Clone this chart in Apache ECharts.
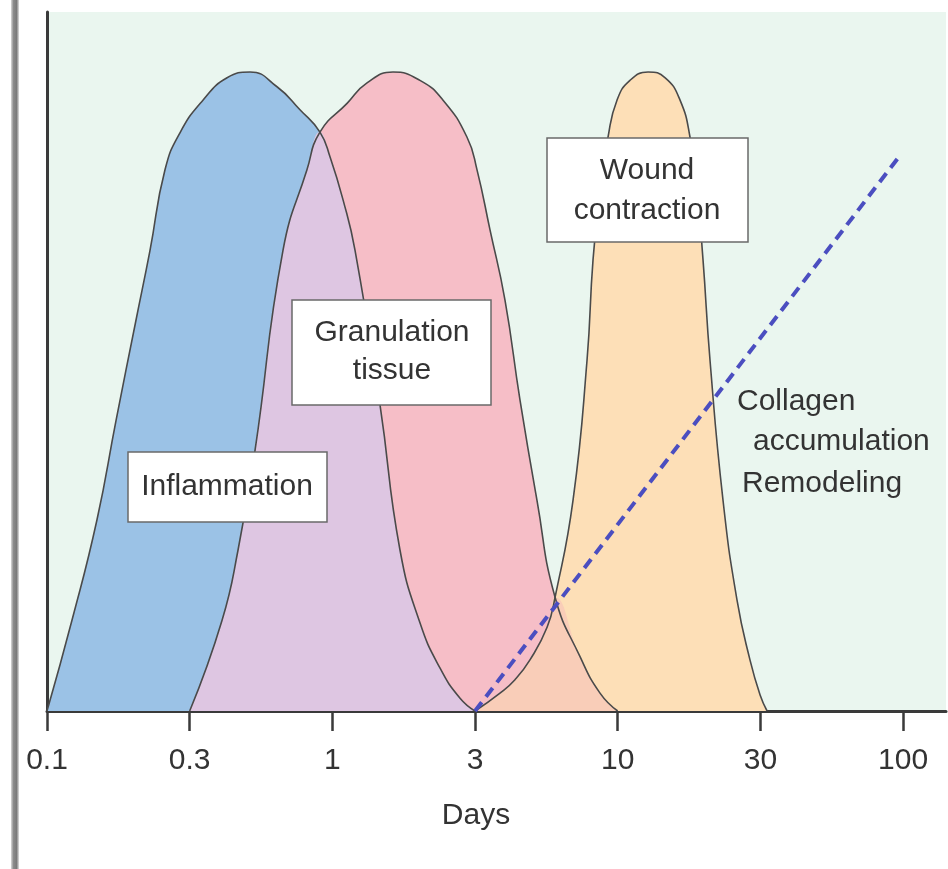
<!DOCTYPE html>
<html>
<head>
<meta charset="utf-8">
<script src="https://cdn.jsdelivr.net/npm/echarts@6/dist/echarts.min.js"></script>
<style>
html,body{margin:0;padding:0;background:#fff;}
#chart{width:948px;height:869px;}
</style>
</head>
<body>
<div id="chart"></div>
<script>
// ---- data (x = position along the day axis, one unit per tick; y = relative intensity) ----
const tickLabels = ['0.1', '0.3', '1', '3', '10', '30', '100'];
const tickPositions = [0, 1, 2, 3, 4, 5, 6];

const inflammation = [
  [0, 0], [0.175, 14.2], [0.35, 29.9], [0.484, 45.5], [0.624, 61.2], [0.722, 72.1],
  [0.827, 84.7], [0.932, 90.5], [1.093, 95.6], [1.262, 99.1], [1.423, 100],
  [1.612, 97.7], [1.773, 94.1], [1.913, 90.6], [1.984, 86.7], [2.075, 80.0],
  [2.159, 72.1], [2.334, 47.9], [2.474, 25.2], [2.614, 13.8], [2.755, 6.7],
  [2.895, 2.0], [3.0, 0]
];
const granulation = [
  [1.0, 0], [1.227, 14.2], [1.339, 25.2], [1.458, 40.8], [1.654, 72.1], [1.822, 84.7],
  [1.913, 90.6], [2.103, 95.1], [2.243, 98.3], [2.425, 100], [2.614, 98.7],
  [2.776, 95.6], [2.944, 89.8], [3.014, 84.7], [3.105, 75.3], [3.21, 64.3],
  [3.315, 48.7], [3.434, 33.0], [3.561, 17.8], [3.736, 8.5], [3.876, 2.8], [4.0, 0]
];
const woundContraction = [
  [3.0, 0], [3.175, 2.8], [3.28, 4.9], [3.385, 8.0], [3.505, 13.1], [3.561, 17.8],
  [3.687, 33.0], [3.785, 54.9], [3.827, 70.6], [3.876, 81.5], [3.932, 89.8],
  [3.995, 95.6], [4.086, 98.7], [4.213, 100], [4.333, 99.1], [4.437, 95.6],
  [4.507, 89.8], [4.556, 81.5], [4.598, 70.6], [4.647, 54.9], [4.738, 33.0],
  [4.836, 17.4], [4.927, 8.0], [4.998, 2.5], [5.047, 0]
];
const collagen = [[3.0, 0], [5.97, 86.7]];

// crossing points (shared by both curves)
const crossInflGran = 1.913;
const crossGranWound = 3.561;

// overlap regions built from the curves above
const overlapInflGran = granulation.filter(p => p[0] <= crossInflGran)
  .concat(inflammation.filter(p => p[0] > crossInflGran));
const overlapGranWound = woundContraction.filter(p => p[0] <= crossGranWound)
  .concat(granulation.filter(p => p[0] > crossGranWound));

// ---- styles ----
const C = {
  bg: '#EAF6EF', blue: '#9BC2E6', pink: '#F6BEC7', orange: '#FDDFB7',
  lavender: '#DEC6E2', salmon: '#F9CDB8', outline: '#4a4a4a', dash: '#4B4EC0',
  axis: '#3a3a3a', text: '#333333'
};
const FONT = '"Liberation Sans", Arial, Helvetica, sans-serif';
const SMOOTH = 0.5;

function fill(name, data, color) {
  return {
    name, type: 'line', data, smooth: SMOOTH, symbol: 'none',
    lineStyle: { width: 0, opacity: 0 }, areaStyle: { color, opacity: 1 },
    silent: true, animation: false
  };
}
function outline(name, data) {
  return {
    name, type: 'line', data, smooth: SMOOTH, symbol: 'none',
    lineStyle: { width: 1.6, color: C.outline }, silent: true, animation: false
  };
}

function box(x, y, w, h, lines, cx, cys) {
  const els = [{
    type: 'rect', z: 100, shape: { x, y, width: w, height: h },
    style: { fill: '#ffffff', stroke: '#6a6a6a', lineWidth: 1.5 }
  }];
  lines.forEach((t, i) => els.push({
    type: 'text', z: 101, x: cx, y: cys[i],
    style: { text: t, font: '30px ' + FONT, fill: C.text, align: 'center', verticalAlign: 'middle' }
  }));
  return els;
}

const chart = echarts.init(document.getElementById('chart'), null, { renderer: 'canvas' });
chart.setOption({
  animation: false,
  backgroundColor: '#ffffff',
  grid: { left: 47, right: 2, top: 12, bottom: 158, show: true, backgroundColor: C.bg, borderWidth: 0 },
  xAxis: {
    type: 'value', min: 0, max: 6.301, interval: 1,
    axisLine: { show: true, onZero: false, lineStyle: { color: C.axis, width: 3 } },
    axisTick: { show: true, inside: false, length: 20, customValues: tickPositions, lineStyle: { color: C.axis, width: 2.5 } },
    axisLabel: {
      show: true, margin: 35, customValues: tickPositions, showMaxLabel: true, showMinLabel: true,
      formatter: v => tickLabels[Math.round(v)] ?? '',
      color: C.text, fontSize: 30, fontFamily: FONT, lineHeight: 30
    },
    splitLine: { show: false }
  },
  yAxis: {
    type: 'value', min: 0, max: 109.4,
    axisLine: { show: true, lineStyle: { color: C.axis, width: 3 } },
    axisTick: { show: false }, axisLabel: { show: false }, splitLine: { show: false }
  },
  series: [
    fill('Inflammation', inflammation, C.blue),
    fill('Granulation tissue', granulation, C.pink),
    fill('Wound contraction', woundContraction, C.orange),
    fill('overlap1', overlapInflGran, C.lavender),
    fill('overlap2', overlapGranWound, C.salmon),
    outline('Inflammation edge', inflammation),
    outline('Granulation edge', granulation),
    outline('Wound edge', woundContraction),
    {
      name: 'Collagen accumulation / Remodeling', type: 'line', data: collagen, symbol: 'none',
      lineStyle: { color: C.dash, width: 4, type: [11, 7], cap: 'butt' }, silent: true, z: 5
    }
  ],
  graphic: [
    { type: 'rect', z: 100, shape: { x: 11, y: 0, width: 8, height: 869 },
      style: { fill: new echarts.graphic.LinearGradient(0, 0, 1, 0, [
        { offset: 0, color: '#d9d9d9' }, { offset: 0.3, color: '#8c8c8c' },
        { offset: 0.7, color: '#7a7a7a' }, { offset: 1, color: '#e0e0e0' }]) } },
    ...box(128, 452, 199, 70, ['Inflammation'], 227, [487]),
    ...box(292, 300, 199, 105, ['Granulation', 'tissue'], 392, [333, 371]),
    ...box(547, 138, 201, 104, ['Wound', 'contraction'], 647, [171, 211]),
    { type: 'text', z: 100, x: 737, y: 402, style: { text: 'Collagen', font: '30px ' + FONT, fill: C.text, align: 'left', verticalAlign: 'middle' } },
    { type: 'text', z: 100, x: 753, y: 442, style: { text: 'accumulation', font: '30px ' + FONT, fill: C.text, align: 'left', verticalAlign: 'middle' } },
    { type: 'text', z: 100, x: 742, y: 484, style: { text: 'Remodeling', font: '30px ' + FONT, fill: C.text, align: 'left', verticalAlign: 'middle' } },
    { type: 'text', z: 100, x: 476, y: 816, style: { text: 'Days', font: '30px ' + FONT, fill: C.text, align: 'center', verticalAlign: 'middle' } }
  ]
});
</script>
</body>
</html>
